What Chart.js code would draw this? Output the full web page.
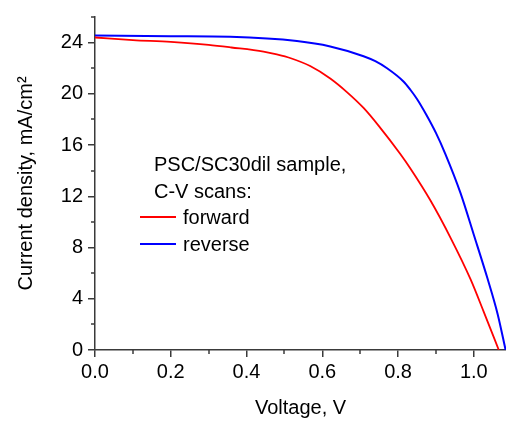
<!DOCTYPE html>
<html>
<head>
<meta charset="utf-8">
<script src="https://cdn.jsdelivr.net/npm/chart.js@4/dist/chart.umd.min.js"></script>
<style>
  html, body { margin: 0; padding: 0; background: #fff; }
  #wrap { width: 506px; height: 423px; }
</style>
</head>
<body>
<div id="wrap"><canvas id="jv"></canvas></div>
<script>
// values
var forwardV = [0, 0.1, 0.2, 0.3, 0.36, 0.445, 0.48, 0.515, 0.568, 0.621, 0.665, 0.709, 0.749, 0.806, 0.833, 0.886, 0.938, 0.991, 1.026, 1.066];
var forwardJ = [24.4, 24.2, 24.05, 23.82, 23.62, 23.3, 23.08, 22.8, 22.17, 21.2, 20.14, 18.9, 17.5, 15.3, 14.15, 11.65, 8.8, 5.55, 3.0, 0];
var reverseV = [0, 0.2, 0.357, 0.533, 0.621, 0.709, 0.74, 0.771, 0.815, 0.833, 0.85, 0.875, 0.9, 0.925, 0.965, 1.0, 1.036, 1.063, 1.084];
var reverseJ = [24.55, 24.5, 24.45, 24.12, 23.7, 22.94, 22.55, 22.0, 20.95, 20.3, 19.6, 18.35, 16.95, 15.3, 12.25, 9.0, 5.6, 2.8, 0];
var legendLines = ["PSC/SC30dil sample,", "C-V scans:"];
var seriesNames = ["forward", "reverse"];
var seriesColors = ["#ff0000", "#0000ff"];

function pts(xs, ys) {
    return xs.map(function (x, i) { return { x: x, y: ys[i] }; });
}

var axisColor = "#3a3a3a";
var font = "Liberation Sans, Arial, sans-serif";

// minor ticks + text legend inside plot
var extras = {
    id: "extras",
    afterDraw: function (chart) {
        let ctx = chart.ctx;
        let xs = chart.scales.x, ys = chart.scales.y;
        let a = chart.chartArea;
        ctx.save();
        ctx.strokeStyle = axisColor;
        ctx.lineWidth = 1.5;
        for (let v = 0.1; v < 1.085; v += 0.2) {
            let px = Math.round(xs.getPixelForValue(v));
            ctx.beginPath(); ctx.moveTo(px, a.bottom); ctx.lineTo(px, a.bottom + 4); ctx.stroke();
        }
        for (let v = 2; v <= 26; v += 4) {
            let py = Math.round(ys.getPixelForValue(v));
            ctx.beginPath(); ctx.moveTo(a.left, py); ctx.lineTo(a.left - 4, py); ctx.stroke();
        }
        ctx.fillStyle = "#000";
        ctx.font = "20px " + font;
        ctx.textBaseline = "middle";
        ctx.fillText(legendLines[0], 154, 165);
        ctx.fillText(legendLines[1], 154, 192);
        for (let i = 0; i < seriesNames.length; i++) {
            let y = 218 + i * 27;
            ctx.strokeStyle = seriesColors[i];
            ctx.lineWidth = 1.8;
            ctx.beginPath(); ctx.moveTo(140, y - 1); ctx.lineTo(176, y - 1); ctx.stroke();
            ctx.fillText(seriesNames[i], 183, y);
        }
        ctx.restore();
    }
};

var ctx = document.getElementById("jv").getContext("2d");
var myChart = new Chart(ctx, {
    type: "scatter",
    data: {
        datasets: [
            {
                label: seriesNames[0],
                data: pts(forwardV, forwardJ),
                showLine: true,
                cubicInterpolationMode: "monotone",
                borderColor: seriesColors[0],
                borderWidth: 1.8,
                pointRadius: 0
            },
            {
                label: seriesNames[1],
                data: pts(reverseV, reverseJ),
                showLine: true,
                cubicInterpolationMode: "monotone",
                borderColor: seriesColors[1],
                borderWidth: 2,
                pointRadius: 0
            }
        ]
    },
    options: {
        responsive: true,
        maintainAspectRatio: false,
        animation: false,
        layout: { padding: { top: 8, right: 0, left: 0, bottom: 0 } },
        plugins: { legend: { display: false }, tooltip: { enabled: false } },
        scales: {
            x: {
                type: "linear",
                min: 0,
                max: 1.085,
                afterFit: function (s) { s.height = 73; },
                border: { color: axisColor, width: 1.5 },
                grid: { drawOnChartArea: false, color: axisColor, tickLength: 7, lineWidth: 1.5 },
                ticks: {
                    stepSize: 0.2,
                    includeBounds: false,
                    color: "#000",
                    font: { family: font, size: 20 },
                    padding: 3,
                    maxRotation: 0,
                    callback: function (v) { return v.toFixed(1); }
                },
                title: { display: true, text: "Voltage, V", color: "#000", font: { family: font, size: 20 }, padding: { top: 0, bottom: 3 } }
            },
            y: {
                min: 0,
                max: 26,
                afterFit: function (s) { s.width = 95; },
                border: { color: axisColor, width: 1.5 },
                grid: { drawOnChartArea: false, color: axisColor, tickLength: 7, lineWidth: 1.5 },
                ticks: {
                    stepSize: 4,
                    includeBounds: false,
                    color: "#000",
                    font: { family: font, size: 20 },
                    padding: 5
                },
                title: { display: true, text: "Current density, mA/cm²", color: "#000", font: { family: font, size: 20 }, padding: { top: 14, bottom: 0 } }
            }
        }
    },
    plugins: [extras]
});
</script>
</body>
</html>
